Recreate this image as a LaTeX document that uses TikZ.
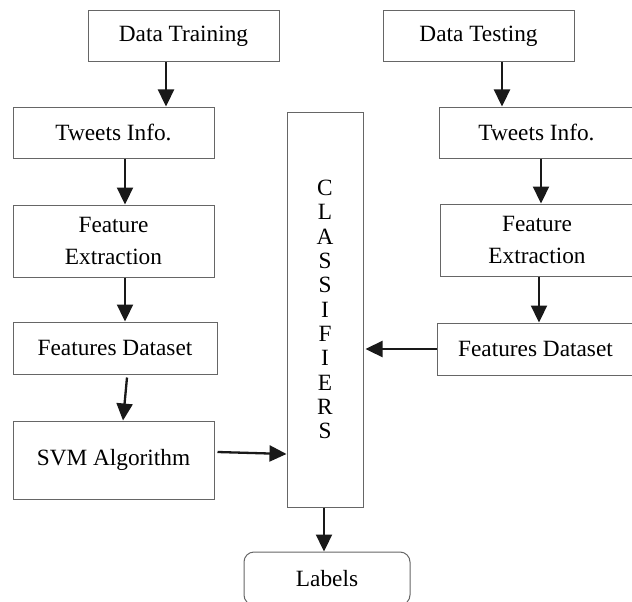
\documentclass[tikz,border=0pt]{standalone}
\usepackage{fontspec}
\setmainfont{Liberation Serif}
\usetikzlibrary{arrows.meta,calc}

\begin{document}
\begin{tikzpicture}[x=1pt,y=-1pt,
  box/.style={draw=black!60, line width=1pt, inner sep=0pt, align=center,
    text=black, font=\fontsize{23.3}{31.7}\selectfont},
  arr/.style={line width=2.3pt, black!90, -{Triangle[length=17pt,width=16pt]}}
]
% page frame
\clip (0,0) rectangle (632,602);
\fill[white] (0,0) rectangle (632,602);

% training branch
\node[box, minimum width=191pt, minimum height=51pt] (dtr) at (183.5,36.5) {Data Training};
\node[box, minimum width=201pt, minimum height=51pt] (twl) at (113.5,132.5) {Tweets Info.};
\node[box, minimum width=201pt, minimum height=72pt] (fel) at (113.5,241) {Feature\\Extraction};
\node[box, minimum width=204pt, minimum height=52pt] (fdl) at (115,348) {Features Dataset};
\node[box, minimum width=201pt, minimum height=78pt] (svm) at (113.5,460) {SVM Algorithm};

% testing branch
\node[box, minimum width=191pt, minimum height=51pt] (dte) at (478.5,36.5) {Data Testing};
\node[box, minimum width=195pt, minimum height=51pt] (twr) at (536.5,132.5) {Tweets Info.};
\node[box, minimum width=194pt, minimum height=72pt] (fer) at (537,240) {Feature\\Extraction};
\node[box, minimum width=197pt, minimum height=52pt] (fdr) at (535.5,349) {Features Dataset};

% classifier column and output
\node[box, minimum width=76pt, minimum height=395pt,
  font=\fontsize{23.3}{24.3}\selectfont] (cls) at (325,309.5)
  {C\\L\\A\\S\\S\\I\\F\\I\\E\\R\\S};
\node[box, rounded corners=10pt, minimum width=166pt, minimum height=53pt] (lab) at (327,578.5) {Labels};

% connectors, training side
\draw[arr] ([xshift=-17.5pt]dtr.south) -- ([xshift=-17.5pt]dtr.south |- twl.north);
\draw[arr] ([xshift=11.5pt]twl.south) -- ([xshift=11.5pt]twl.south |- fel.north);
\draw[arr] ([xshift=11.5pt]fel.south) -- ([xshift=11.5pt]fel.south |- fdl.north);
\draw[arr] ([xshift=12pt,yshift=-3pt]fdl.south) -- ([xshift=9.5pt]svm.north);
\draw[arr] ([xshift=3pt,yshift=8pt]svm.east) -- ([yshift=-144.5pt]cls.west);

% connectors, testing side
\draw[arr] ([xshift=23.5pt]dte.south) -- ([xshift=23.5pt]dte.south |- twr.north);
\draw[arr] ([xshift=4.5pt]twr.south) -- ([xshift=4.5pt]twr.south |- fer.north);
\draw[arr] ([xshift=2pt]fer.south) -- ([xshift=2pt]fer.south |- fdr.north);
\draw[arr] (fdr.west) -- ([xshift=2pt]fdr.west -| cls.east);

% output
\draw[arr] ([xshift=-1pt]cls.south) -- ([xshift=-1pt]cls.south |- lab.north);
\end{tikzpicture}
\end{document}
